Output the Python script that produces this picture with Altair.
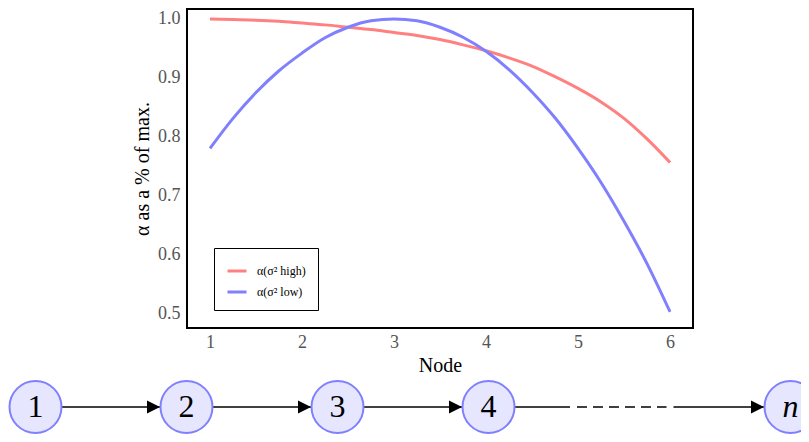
import altair as alt
import pandas as pd

# ---- line chart data ----
node_grid = [1.0, 1.25, 1.5, 1.75, 2.0, 2.25, 2.5, 2.75, 3.0, 3.25, 3.5,
             3.75, 4.0, 4.25, 4.5, 4.75, 5.0, 5.25, 5.5, 5.75, 6.0]
alpha_high = [1.000, 0.999, 0.998, 0.996, 0.993, 0.990, 0.986, 0.982, 0.977,
              0.972, 0.965, 0.956, 0.946, 0.934, 0.920, 0.902, 0.882, 0.859,
              0.831, 0.796, 0.756]
alpha_low = [0.780, 0.831, 0.875, 0.912, 0.942, 0.968, 0.986, 0.997, 1.000,
             0.997, 0.986, 0.969, 0.945, 0.914, 0.876, 0.832, 0.780, 0.722,
             0.656, 0.584, 0.502]
series_names = ["α(σ² high)", "α(σ² low)"]
series_colors = ["#ff8080", "#8080ff"]
x_ticks = [1, 2, 3, 4, 5, 6]
y_ticks = [0.5, 0.6, 0.7, 0.8, 0.9, 1.0]

# ---- node diagram data ----
node_pos = [1, 2, 3, 4, 6]
node_text = ["1", "2", "3", "4", "n"]
edge_from = [1, 2, 3, 4, 5.225]
edge_to = [2, 3, 4, 4.54, 6]
dash_from = [4.586]
dash_to = [5.179]
arrow_at = [2, 3, 4, 6]

FONT = "Liberation Serif, Times New Roman, serif"

df_lines = pd.DataFrame({
    "node": node_grid * 2,
    "alpha": alpha_high + alpha_low,
    "series": [series_names[0]] * len(node_grid) + [series_names[1]] * len(node_grid),
})

lines = alt.Chart(df_lines).mark_line(strokeWidth=3, interpolate="monotone").encode(
    x=alt.X("node:Q",
            scale=alt.Scale(domain=[0.75, 6.25], nice=False, zero=False),
            axis=alt.Axis(values=x_ticks, format="d", title="Node", grid=False,
                          domain=False, ticks=False, labelPadding=5, titlePadding=4,
                          labelFont=FONT, labelFontSize=18, labelColor="#555555",
                          titleFont=FONT, titleFontSize=20, titleFontWeight="normal",
                          titleColor="black")),
    y=alt.Y("alpha:Q",
            scale=alt.Scale(domain=[0.4745, 1.017], nice=False, zero=False),
            axis=alt.Axis(values=y_ticks, format=".1f", title="α as a % of max.",
                          grid=False, domain=False, ticks=False, labelPadding=7,
                          titlePadding=5,
                          labelFont=FONT, labelFontSize=18, labelColor="#555555",
                          titleFont=FONT, titleFontSize=20, titleFontWeight="normal",
                          titleColor="black")),
    color=alt.Color("series:N",
                    scale=alt.Scale(domain=series_names, range=series_colors),
                    legend=alt.Legend(title=None, orient="none", legendX=27, legendY=239,
                                      strokeColor="black", fillColor="white",
                                      padding=12, rowPadding=4, cornerRadius=0,
                                      symbolType="stroke", symbolStrokeWidth=3,
                                      symbolSize=361, labelOffset=9,
                                      labelFont=FONT, labelFontSize=12,
                                      labelColor="black")),
)

# diagram scales (hidden axes)
dx = alt.Scale(domain=[2.0033, 5.3543], nice=False, zero=False)
dy = alt.Scale(domain=[0.2476, 1.2476], nice=False, zero=False)

df_nodes = pd.DataFrame({"pos": node_pos, "label": node_text, "row": [0] * len(node_pos)})
df_edges = pd.DataFrame({"a": edge_from, "b": edge_to, "row": [0] * len(edge_from)})
df_dash = pd.DataFrame({"a": dash_from, "b": dash_to, "row": [0] * len(dash_from)})
df_arrows = pd.DataFrame({"pos": arrow_at, "row": [0] * len(arrow_at)})

edges = alt.Chart(df_edges).mark_rule(color="black", strokeWidth=1.6).encode(
    x=alt.X("a:Q", scale=dx, axis=None),
    x2="b:Q",
    y=alt.Y("row:Q", scale=dy, axis=None),
)
dashes = alt.Chart(df_dash).mark_rule(color="black", strokeWidth=1.6,
                                       strokeDash=[10, 6]).encode(
    x=alt.X("a:Q", scale=dx, axis=None),
    x2="b:Q",
    y=alt.Y("row:Q", scale=dy, axis=None),
)
heads = alt.Chart(df_arrows).mark_point(
    shape="M-26.5,0L-39.5,-6.5L-39.5,6.5Z", size=4, filled=True, color="black",
    opacity=1).encode(
    x=alt.X("pos:Q", scale=dx, axis=None),
    y=alt.Y("row:Q", scale=dy, axis=None),
)
circles = alt.Chart(df_nodes).mark_point(
    shape="circle", size=2704, filled=True, fill="#e6e6ff", stroke="#8080ff",
    strokeWidth=2, opacity=1, fillOpacity=1).encode(
    x=alt.X("pos:Q", scale=dx, axis=None),
    y=alt.Y("row:Q", scale=dy, axis=None),
)
labels_num = alt.Chart(df_nodes).transform_filter(
    alt.datum.label != "n").mark_text(
    font=FONT, fontSize=32, color="black", baseline="middle", align="center").encode(
    x=alt.X("pos:Q", scale=dx, axis=None),
    y=alt.Y("row:Q", scale=dy, axis=None),
    text="label:N",
)
labels_n = alt.Chart(df_nodes).transform_filter(
    alt.datum.label == "n").mark_text(
    font=FONT, fontSize=32, fontStyle="italic", color="black", baseline="middle",
    align="center").encode(
    x=alt.X("pos:Q", scale=dx, axis=None),
    y=alt.Y("row:Q", scale=dy, axis=None),
    text="label:N",
)

diagram = alt.layer(edges, dashes, heads, circles, labels_num, labels_n)

chart = alt.layer(lines, diagram).resolve_scale(
    x="independent", y="independent", color="independent"
).properties(
    width=506, height=319,
    background="white",
    autosize=alt.AutoSizeParams(type="none"),
    padding={"left": 179, "top": 1, "right": 108, "bottom": 106},
).configure_view(
    stroke="black", strokeWidth=2
)

chart.save("out.html", embed_options={"renderer": "svg", "actions": False})
